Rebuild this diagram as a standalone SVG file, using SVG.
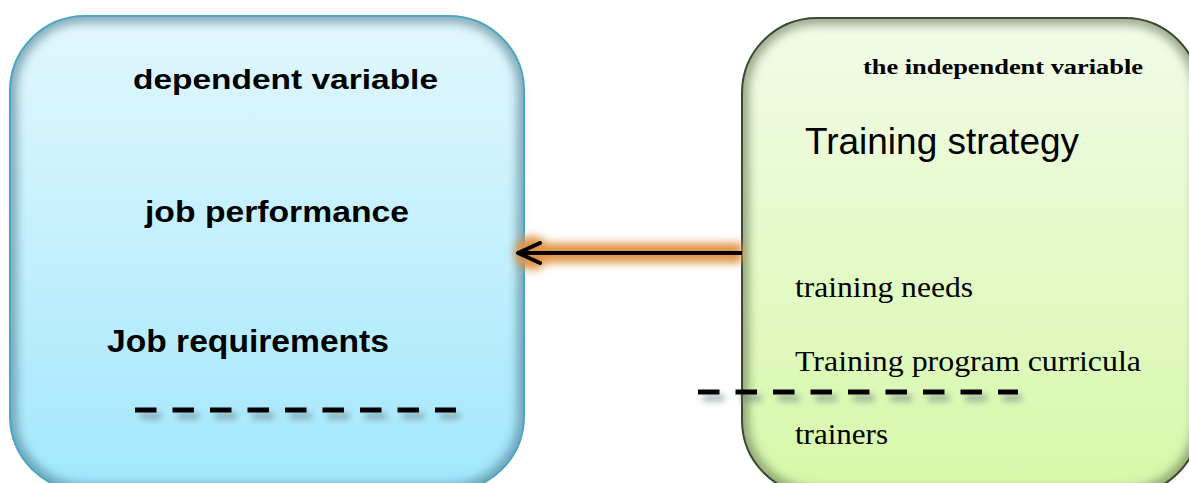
<svg xmlns="http://www.w3.org/2000/svg" width="1189" height="483" viewBox="0 0 1189 483">
<style>
.sans{font-family:"Liberation Sans",Arial,sans-serif;fill:#000}
.serif{font-family:"Liberation Serif","Times New Roman",serif;fill:#000}
.b{font-weight:bold}
.dash{stroke:#000;stroke-width:5;stroke-dasharray:21.5 16;fill:none}
.dashsh{stroke:#6a7a80;stroke-width:6;stroke-dasharray:21.5 16;fill:none;filter:url(#blur3);opacity:0.6}
</style>
<defs>
<linearGradient id="gBlue" x1="0" y1="0" x2="0" y2="1">
<stop offset="0" stop-color="#e2f7fd"/>
<stop offset="1" stop-color="#a2e7fc"/>
</linearGradient>
<linearGradient id="gGreen" x1="0" y1="0" x2="0" y2="1">
<stop offset="0" stop-color="#f2fbe8"/>
<stop offset="1" stop-color="#d6f8a8"/>
</linearGradient>
<filter id="blur3" filterUnits="userSpaceOnUse" x="0" y="0" width="1189" height="483"><feGaussianBlur stdDeviation="3"/></filter>
<filter id="blur5" x="-20%" y="-20%" width="140%" height="140%"><feGaussianBlur stdDeviation="5"/></filter>
<filter id="glow" filterUnits="userSpaceOnUse" x="0" y="0" width="1189" height="483"><feGaussianBlur stdDeviation="4"/></filter>
<clipPath id="clipL"><rect x="10" y="16" width="514" height="475" rx="75" ry="75"/></clipPath>
<clipPath id="clipR"><rect x="742" y="18" width="458" height="477" rx="75" ry="75"/></clipPath>
</defs>

<g id="node-dependent">
<rect x="10" y="16" width="514" height="475" rx="75" ry="75" fill="url(#gBlue)"/>
<g clip-path="url(#clipL)">
<rect x="10" y="16" width="514" height="475" rx="75" ry="75" fill="none" stroke="#3f6f80" stroke-width="14" opacity="0.55" filter="url(#blur5)"/>
</g>
<rect x="10" y="16" width="514" height="475" rx="75" ry="75" fill="none" stroke="#4aa6c4" stroke-width="2"/>
<text class="sans b" x="133" y="89" font-size="28" textLength="305" lengthAdjust="spacingAndGlyphs">dependent variable</text>
<text class="sans b" x="145" y="222" font-size="30" textLength="264" lengthAdjust="spacingAndGlyphs">job performance</text>
<text class="sans b" x="107" y="352" font-size="31" textLength="282" lengthAdjust="spacingAndGlyphs">Job requirements</text>
<line class="dashsh" x1="140" y1="416" x2="460" y2="416"/>
<line class="dash" x1="135" y1="410" x2="456" y2="410"/>
</g>

<g id="node-independent">
<rect x="742" y="18" width="458" height="477" rx="75" ry="75" fill="url(#gGreen)"/>
<g clip-path="url(#clipR)">
<rect x="742" y="18" width="458" height="477" rx="75" ry="75" fill="none" stroke="#4a5a3a" stroke-width="14" opacity="0.5" filter="url(#blur5)"/>
</g>
<rect x="742" y="18" width="458" height="477" rx="75" ry="75" fill="none" stroke="#3a4a2e" stroke-width="2"/>
<text class="serif b" x="863" y="74" font-size="21" textLength="280" lengthAdjust="spacingAndGlyphs">the independent variable</text>
<text class="sans" x="805" y="154" font-size="37" textLength="274" lengthAdjust="spacingAndGlyphs">Training strategy</text>
<text class="serif" x="795" y="297" font-size="30" textLength="178" lengthAdjust="spacingAndGlyphs">training needs</text>
<text class="serif" x="795" y="371" font-size="30" textLength="346" lengthAdjust="spacingAndGlyphs">Training program curricula</text>
<text class="serif" x="795" y="444" font-size="30" textLength="93" lengthAdjust="spacingAndGlyphs">trainers</text>
<line class="dashsh" x1="703" y1="398" x2="1022" y2="398"/>
<line class="dash" x1="698" y1="392" x2="1018" y2="392"/>
</g>

<g id="connectors">
<g filter="url(#glow)">
<line x1="524" y1="253" x2="742" y2="253" stroke="#e0944a" stroke-width="20"/>
<circle cx="532" cy="253" r="17" fill="#e0944a"/>
</g>
<line x1="519" y1="253" x2="742" y2="253" stroke="#000" stroke-width="4"/>
<polyline points="540,243 518,253 540,263" fill="none" stroke="#000" stroke-width="4" stroke-linecap="round" stroke-linejoin="round"/>
</g>
</svg>
